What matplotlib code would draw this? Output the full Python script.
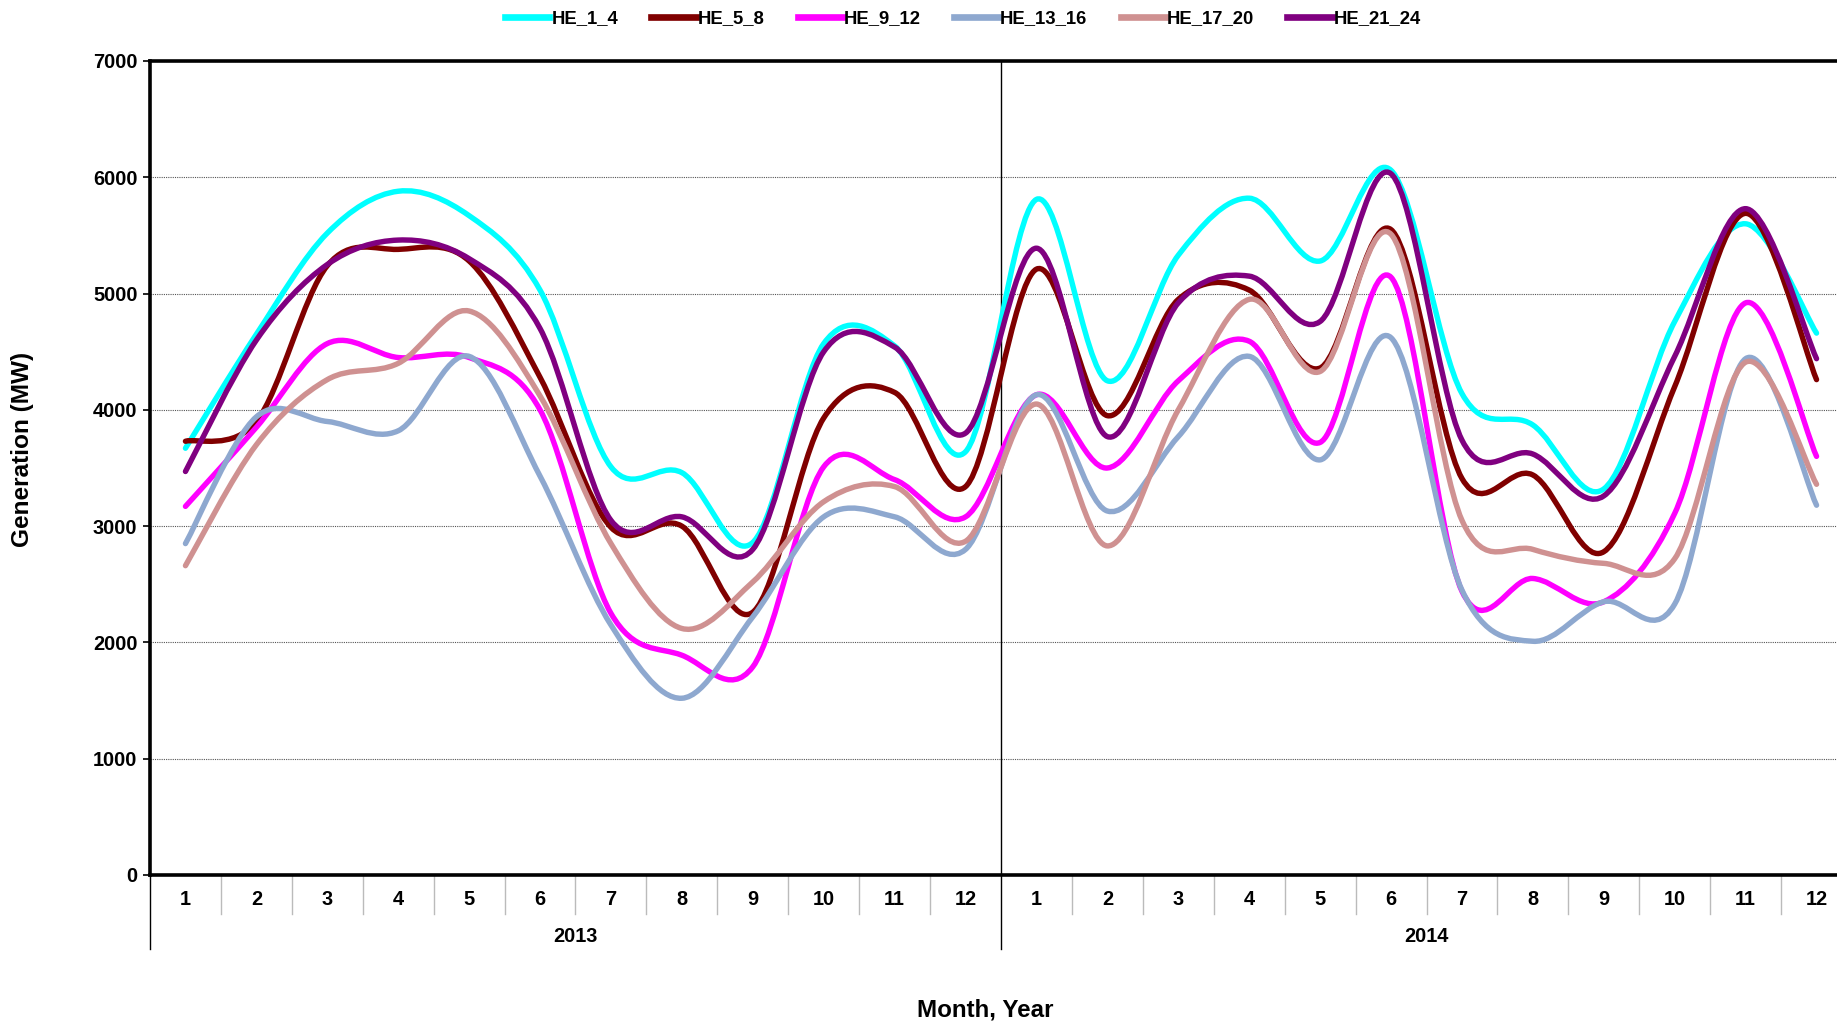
import matplotlib.pyplot as plt
import matplotlib.transforms as mtransforms
from matplotlib.path import Path
from matplotlib.patches import PathPatch
from matplotlib.lines import Line2D

plt.rcParams['font.family'] = ['Liberation Sans', 'DejaVu Sans']
plt.rcParams['font.weight'] = 'bold'

# Dados (MW por mes, 2013-2014)
years = ['2013', '2014']
month_labels = [str(m) for m in range(1, 13)] * 2
series_names = ['HE_1_4', 'HE_5_8', 'HE_9_12', 'HE_13_16', 'HE_17_20', 'HE_21_24']

he_1_4 = [3670, 4650, 5520, 5880, 5670, 5030, 3510, 3460, 2860, 4570, 4550, 3640,
          5810, 4250, 5330, 5820, 5280, 6060, 4140, 3870, 3320, 4760, 5600, 4660]
he_5_8 = [3730, 3900, 5240, 5380, 5280, 4280, 2990, 3000, 2260, 3930, 4150, 3340,
          5210, 3950, 4950, 5030, 4360, 5550, 3410, 3440, 2780, 4200, 5690, 4260]
he_9_12 = [3170, 3850, 4570, 4450, 4450, 4000, 2250, 1890, 1790, 3510, 3400, 3080,
           4130, 3500, 4250, 4590, 3720, 5140, 2440, 2550, 2350, 3110, 4920, 3600]
he_13_16 = [2850, 3940, 3900, 3820, 4460, 3430, 2150, 1520, 2220, 3080, 3080, 2800,
            4130, 3130, 3770, 4460, 3570, 4620, 2450, 2010, 2350, 2330, 4440, 3180]
he_17_20 = [2660, 3700, 4260, 4400, 4850, 4120, 2850, 2120, 2520, 3210, 3340, 2870,
            4050, 2830, 4000, 4950, 4330, 5510, 3050, 2800, 2680, 2720, 4410, 3360]
he_21_24 = [3470, 4600, 5250, 5460, 5300, 4700, 3050, 3080, 2800, 4500, 4540, 3800,
            5390, 3770, 4920, 5150, 4760, 6030, 3740, 3620, 3260, 4460, 5730, 4440]

all_series = [he_1_4, he_5_8, he_9_12, he_13_16, he_17_20, he_21_24]
colors = ['#00FFFF', '#800000', '#FF00FF', '#8EA8CF', '#CF9191', '#800080']


def smooth_path(xs, ys):
    # curva suavizada estilo Excel (Bezier com tangentes Catmull-Rom)
    pts = list(zip(xs, ys))
    n = len(pts)
    verts = [pts[0]]
    codes = [Path.MOVETO]
    for i in range(n - 1):
        p0 = pts[i - 1] if i > 0 else pts[i]
        p1 = pts[i]
        p2 = pts[i + 1]
        p3 = pts[i + 2] if i + 2 < n else pts[i + 1]
        c1 = (p1[0] + (p2[0] - p0[0]) / 6, p1[1] + (p2[1] - p0[1]) / 6)
        c2 = (p2[0] - (p3[0] - p1[0]) / 6, p2[1] - (p3[1] - p1[1]) / 6)
        verts += [c1, c2, p2]
        codes += [Path.CURVE4] * 3
    return Path(verts, codes)


fig = plt.figure(figsize=(18.37, 10.25), dpi=100)
ax = fig.add_axes([150 / 1837, 1 - 875 / 1025, (1852 - 150) / 1837, (875 - 61) / 1025])

x = list(range(1, len(month_labels) + 1))
for vals, c in zip(all_series, colors):
    patch = PathPatch(smooth_path(x, vals), facecolor='none', edgecolor=c,
                      lw=3.9, capstyle='round', joinstyle='round', zorder=3)
    ax.add_patch(patch)

ax.set_xlim(0.5, len(x) + 0.5)
ax.set_ylim(0, 7000)
ax.set_yticks(range(0, 7001, 1000))
ax.yaxis.grid(True, color='#555555', linestyle=(0, (1, 1)), lw=0.8)
ax.set_axisbelow(True)
ax.tick_params(axis='y', labelsize=14.4, length=5, width=1.2, pad=4)
ax.set_xticks([])
for lab in ax.get_yticklabels():
    lab.set_fontweight('bold')

for s in ['left', 'top', 'bottom']:
    ax.spines[s].set_linewidth(2.6)
    ax.spines[s].set_color('black')
ax.spines['right'].set_visible(False)

# linha separando os anos
ax.axvline(12.5, color='black', lw=1.0, zorder=2)

# tabela de categorias abaixo do eixo
trans = mtransforms.blended_transform_factory(ax.transData, ax.transAxes)
for k in range(len(x) + 1):
    xb = k + 0.5
    if k % 12 == 0:
        ax.plot([xb, xb], [0, -0.091], transform=trans, color='black', lw=1.0, clip_on=False)
    else:
        ax.plot([xb, xb], [0, -0.048], transform=trans, color='#BBBBBB', lw=1.0, clip_on=False)
for xi, lab in zip(x, month_labels):
    ax.text(xi, -0.0295, lab, transform=trans, ha='center', va='center',
            fontsize=14.4, fontweight='bold')
for j, yr in enumerate(years):
    ax.text(12 * j + 6.5, -0.075, yr, transform=trans, ha='center', va='center',
            fontsize=14.4, fontweight='bold')

fig.text(23 / 1837, 1 - 449 / 1025, 'Generation (MW)', rotation=90, ha='center', va='center',
         fontsize=17.6, fontweight='bold')
fig.text(985 / 1837, 1 - 1010 / 1025, 'Month, Year', ha='center', va='center',
         fontsize=17.4, fontweight='bold')

handles = [Line2D([], [], color=c, lw=4.8) for c in colors]
fig.legend(handles, series_names, loc='center', bbox_to_anchor=(963 / 1837, 1 - 19 / 1025),
           ncol=6, frameon=False, handlelength=2.4, handletextpad=0.1, columnspacing=1.8,
           prop={'size': 13.3, 'weight': 'bold'})

fig.savefig('out.png', dpi=100)
